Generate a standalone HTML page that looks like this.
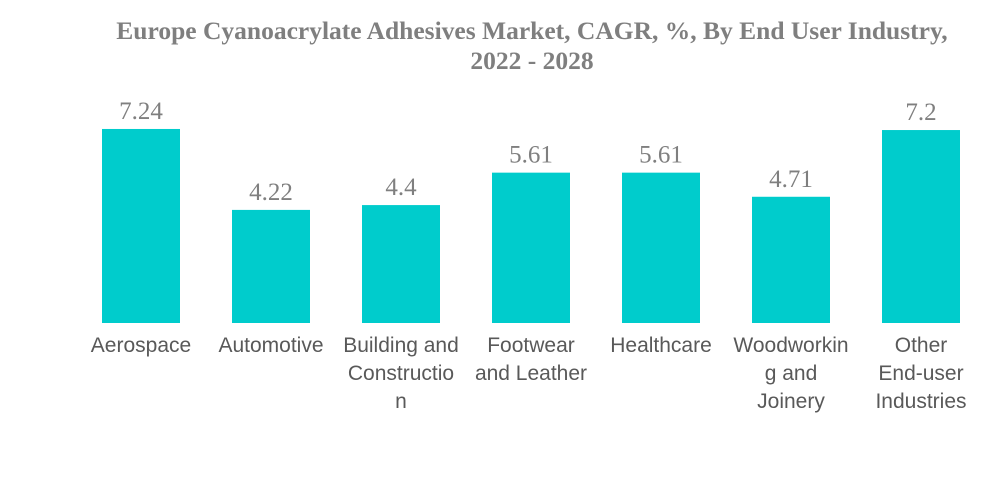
<!DOCTYPE html>
<html><head><meta charset="utf-8">
<style>
body{margin:0;background:#fff;}
svg{display:block;}
</style></head>
<body>
<svg id="chart" width="1000" height="483" xmlns="http://www.w3.org/2000/svg">
<text x="532" y="39" text-anchor="middle" font-family="Liberation Serif, serif" font-weight="bold" font-size="25.5" fill="#7f7f7f">Europe Cyanoacrylate Adhesives Market, CAGR, %, By End User Industry,</text>
<text x="532" y="69" text-anchor="middle" font-family="Liberation Serif, serif" font-weight="bold" font-size="25.5" fill="#7f7f7f">2022 - 2028</text>
<g id="bars"></g>
</svg>
<script>
const categories = [["Aerospace"],["Automotive"],["Building and","Constructio","n"],["Footwear","and Leather"],["Healthcare"],["Woodworkin","g and","Joinery"],["Other","End-user","Industries"]];
const values = [7.24,4.22,4.4,5.61,5.61,4.71,7.2];
const labels = ["7.24","4.22","4.4","5.61","5.61","4.71","7.2"];
const NS="http://www.w3.org/2000/svg";
const baseY=323, unit=26.8, x0=102, step=130, bw=78;
function yScale(v){return baseY - v*unit;}
function xScale(i){return x0 + i*step;}
const g=document.getElementById('bars');
values.forEach((v,i)=>{
  const r=document.createElementNS(NS,'rect');
  r.setAttribute('x',xScale(i));r.setAttribute('y',yScale(v));
  r.setAttribute('width',bw);r.setAttribute('height',baseY-yScale(v));
  r.setAttribute('fill','#00cccc');
  
  
  g.appendChild(r);
  const t=document.createElementNS(NS,'text');
  t.setAttribute('x',xScale(i)+bw/2);t.setAttribute('y',yScale(v)-10);
  t.setAttribute('text-anchor','middle');t.setAttribute('font-family','Liberation Serif, serif');
  t.setAttribute('font-size','25');t.setAttribute('fill','#7f7f7f');
  t.textContent=labels[i];
  
  
  g.appendChild(t);
  categories[i].forEach((line,j)=>{
    const c=document.createElementNS(NS,'text');
    c.setAttribute('x',xScale(i)+bw/2);c.setAttribute('y',352+j*28);
    c.setAttribute('text-anchor','middle');c.setAttribute('font-family','Liberation Sans, sans-serif');
    c.setAttribute('font-size','21');c.setAttribute('fill','#595959');
    c.textContent=line;
    
    
    g.appendChild(c);
  });
});
</script>
</body></html>
